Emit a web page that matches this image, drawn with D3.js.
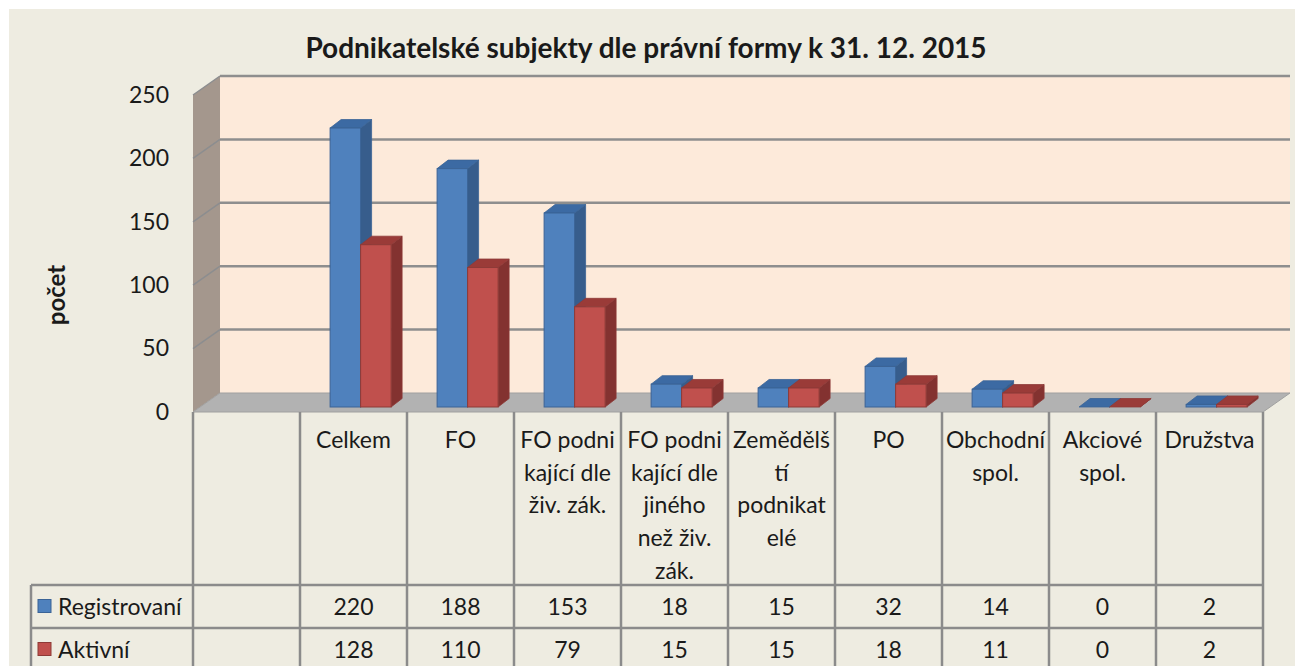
<!DOCTYPE html>
<html>
<head>
<meta charset="utf-8">
<script src="https://cdn.jsdelivr.net/npm/d3@7"></script>
<style>
  body { margin: 0; background: #ffffff; }
  text { font-family: Lato, "Open Sans", sans-serif; fill: #1a1a1a; }
</style>
</head>
<body>
<div id="chart"></div>
<script>
// data
var title = "Podnikatelské subjekty dle právní formy k 31. 12. 2015";
var yTitle = "počet";
// first column of the chart is blank
var categories = ["", "Celkem", "FO", "FO podnikající dle živ. zák.",
  "FO podnikající dle jiného než živ. zák.", "Zemědělští podnikatelé",
  "PO", "Obchodní spol.", "Akciové spol.", "Družstva"];
// the category labels as they wrap in the table
var categoryLines = [
  [],
  ["Celkem"],
  ["FO"],
  ["FO podni", "kající dle", "živ. zák."],
  ["FO podni", "kající dle", "jiného", "než živ.", "zák."],
  ["Zemědělš", "tí", "podnikat", "elé"],
  ["PO"],
  ["Obchodní", "spol."],
  ["Akciové", "spol."],
  ["Družstva"]
];
var seriesNames = ["Registrovaní", "Aktivní"];
var registrovani = [null, 220, 188, 153, 18, 15, 32, 14, 0, 2];
var aktivni = [null, 128, 110, 79, 15, 15, 18, 11, 0, 2];
var yTicks = [0, 50, 100, 150, 200, 250];

var W = 1295, H = 666;
var fontSize = "23px";

// colours
var frontCol = ["#4f81bd", "#c0504d"],
    sideCol = ["#375d8c", "#833230"],
    topCol = ["#3c6aa3", "#9a3b38"],
    edgeCol = ["#3a6396", "#8e3a37"];

var svg = d3.select("#chart")
  .append("svg")
    .attr("width", W)
    .attr("height", H);

// chart area background (white strip at top and left)
svg.append("rect")
  .attr("x", 9).attr("y", 9)
  .attr("width", W - 9).attr("height", H - 9)
  .attr("fill", "#eeece1");

// plot frame: front plane, depth offset of the 3D box
var x0 = 193, x1 = 1263;
var depthX = 27, depthY = -19;

var x = d3.scaleBand()
  .domain(d3.range(categories.length))
  .range([x0, x1]);

var y = d3.scaleLinear()
  .domain([0, 250])
  .range([412, 95]);

// back wall
svg.append("rect")
  .attr("x", x0 + depthX)
  .attr("y", y(250) + depthY)
  .attr("width", x1 - x0)
  .attr("height", y(0) - y(250))
  .attr("fill", "#fdeada");

// side wall
svg.append("polygon")
  .attr("points", [[x0, y(250)], [x0 + depthX, y(250) + depthY],
                   [x0 + depthX, y(0) + depthY], [x0, y(0)]].join(" "))
  .attr("fill", "#a4978d");

// floor
svg.append("polygon")
  .attr("points", [[x0, y(0)], [x0 + depthX, y(0) + depthY],
                   [x1 + depthX, y(0) + depthY], [x1, y(0)]].join(" "))
  .attr("fill", "#b2b2b2")
  .attr("stroke", "#a0a0a0")
  .attr("stroke-width", 1);

// gridlines on the walls
yTicks.filter(function(t) { return t > 0; }).forEach(function(t) {
  svg.append("line")
    .attr("x1", x0 + depthX).attr("x2", x1 + depthX)
    .attr("y1", y(t) + depthY).attr("y2", y(t) + depthY)
    .attr("stroke", "#8e8e8e")
    .attr("stroke-width", 2.5);
  svg.append("line")
    .attr("x1", x0).attr("x2", x0 + depthX)
    .attr("y1", y(t)).attr("y2", y(t) + depthY)
    .attr("stroke", "#8c8d8f")
    .attr("stroke-width", 1.5);
});

// y axis labels
var yAxis = svg.append("g")
  .attr("transform", "translate(181,0)")
  .call(d3.axisLeft(y).tickValues(yTicks).tickSize(0).tickPadding(12));
yAxis.select(".domain").remove();
yAxis.selectAll("text")
  .style("font-family", "Lato, 'Open Sans', sans-serif")
  .style("font-size", fontSize)
  .attr("fill", "#1a1a1a");

svg.append("text")
  .attr("transform", "translate(65,295)rotate(-90)")
  .attr("text-anchor", "middle")
  .style("font-size", "24px")
  .style("font-weight", "bold")
  .text(yTitle);

// bars sit a little behind the front plane
var barDepth = 5 / 19;
var bx = depthX * barDepth, by = depthY * barDepth;
var groupW = 61;
var xs = d3.scaleBand()
  .domain([0, 1])
  .range([(x.bandwidth() - groupW) / 2, (x.bandwidth() + groupW) / 2]);
var capX = 11, capY = -8.5;

var barData = [];
categories.forEach(function(c, i) {
  [registrovani, aktivni].forEach(function(s, k) {
    if (s[i] != null) barData.push({ cat: i, s: k, value: s[i] });
  });
});

var bars = svg.selectAll("g.bar")
  .data(barData)
  .enter()
  .append("g")
    .attr("class", "bar");

function barGeom(d) {
  var left = x(d.cat) + xs(d.s) + bx,
      right = left + xs.bandwidth(),
      yt = y(d.value) + by,
      yb = y(0) + by;
  return { l: left, r: right, t: yt, b: yb };
}

bars.append("polygon")
  .attr("points", function(d) {
    var g = barGeom(d);
    return [[g.r, g.t], [g.r + capX, g.t + capY], [g.r + capX, g.b + capY], [g.r, g.b]].join(" ");
  })
  .attr("fill", function(d) { return sideCol[d.s]; })
  .attr("stroke", function(d) { return edgeCol[d.s]; })
  .attr("stroke-width", 0.8);

bars.append("polygon")
  .attr("points", function(d) {
    var g = barGeom(d);
    return [[g.l, g.t], [g.l + capX, g.t + capY], [g.r + capX, g.t + capY], [g.r, g.t]].join(" ");
  })
  .attr("fill", function(d) { return topCol[d.s]; })
  .attr("stroke", function(d) { return edgeCol[d.s]; })
  .attr("stroke-width", 0.8);

bars.append("rect")
  .attr("x", function(d) { return barGeom(d).l; })
  .attr("y", function(d) { return barGeom(d).t; })
  .attr("width", xs.bandwidth())
  .attr("height", function(d) { var g = barGeom(d); return g.b - g.t; })
  .attr("fill", function(d) { return frontCol[d.s]; })
  .attr("stroke", function(d) { return edgeCol[d.s]; })
  .attr("stroke-width", 1);

// data table
var rowTop = [412, 585, 628, 671];
var legendLeft = 31;
var tableColor = "#8b8b8b";

var table = svg.append("g");
// column verticals
x.domain().concat([categories.length]).forEach(function(i) {
  var xx = i < categories.length ? x(i) : x1;
  table.append("line")
    .attr("x1", xx).attr("x2", xx)
    .attr("y1", rowTop[0]).attr("y2", rowTop[3])
    .attr("stroke", tableColor).attr("stroke-width", 2.5);
});
table.append("line")
  .attr("x1", legendLeft).attr("x2", legendLeft)
  .attr("y1", rowTop[1]).attr("y2", rowTop[3])
  .attr("stroke", tableColor).attr("stroke-width", 2.5);
[1, 2].forEach(function(r) {
  table.append("line")
    .attr("x1", legendLeft).attr("x2", x1)
    .attr("y1", rowTop[r]).attr("y2", rowTop[r])
    .attr("stroke", tableColor).attr("stroke-width", 2.5);
});

// category labels
categoryLines.forEach(function(lines, i) {
  lines.forEach(function(line, j) {
    table.append("text")
      .attr("x", x(i) + x.bandwidth() / 2)
      .attr("y", 448 + j * 32.7)
      .attr("text-anchor", "middle")
      .style("font-size", fontSize)
      .text(line);
  });
});

// legend keys and values
[registrovani, aktivni].forEach(function(s, k) {
  var ym = (rowTop[k + 1] + rowTop[k + 2]) / 2;
  table.append("rect")
    .attr("x", 38).attr("y", ym - 7)
    .attr("width", 13).attr("height", 13)
    .attr("fill", frontCol[k])
    .attr("stroke", edgeCol[k]).attr("stroke-width", 1);
  table.append("text")
    .attr("x", 58).attr("y", ym + 8)
    .style("font-size", fontSize)
    .text(seriesNames[k]);
  s.forEach(function(v, i) {
    if (v == null) return;
    table.append("text")
      .attr("x", x(i) + x.bandwidth() / 2)
      .attr("y", ym + 8)
      .attr("text-anchor", "middle")
      .style("font-size", fontSize)
      .text(v);
  });
});

// title
svg.append("text")
  .attr("x", 646)
  .attr("y", 58)
  .attr("text-anchor", "middle")
  .style("font-size", "28px")
  .style("font-weight", "bold")
  .text(title);
</script>
</body>
</html>
